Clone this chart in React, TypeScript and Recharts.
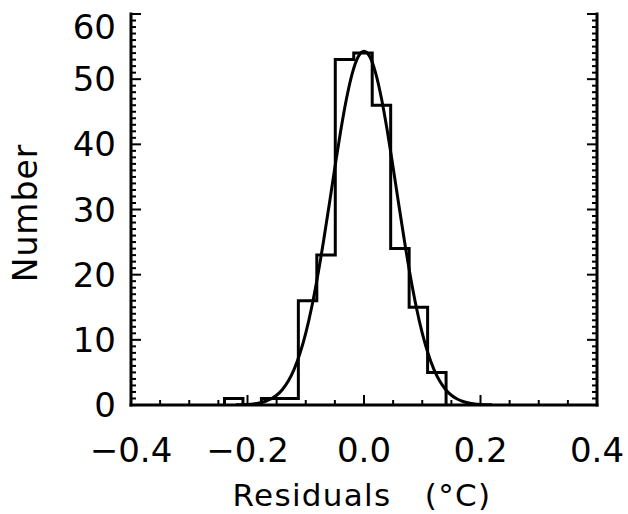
import React from 'react';
import { ComposedChart, Line, XAxis, YAxis } from 'recharts';

// Histogram bin edges (Residuals, °C) and counts per bin
const binEdges = [-0.2395, -0.2078, -0.1761, -0.1444, -0.1127, -0.081, -0.0493, -0.0176, 0.0141, 0.0458, 0.0775, 0.1092, 0.1409];
const binCounts = [1, 0, 1, 1, 16, 23, 53, 54, 46, 24, 15, 5];

// Gaussian fit curve
const fitX = [-0.22, -0.21, -0.2, -0.19, -0.18, -0.17, -0.16, -0.15, -0.14, -0.13, -0.12, -0.11, -0.1, -0.09, -0.08, -0.07, -0.06, -0.05, -0.04, -0.03, -0.02, -0.01, 0, 0.01, 0.02, 0.03, 0.04, 0.05, 0.06, 0.07, 0.08, 0.09, 0.1, 0.11, 0.12, 0.13, 0.14, 0.15, 0.16, 0.17, 0.18, 0.19, 0.2, 0.21, 0.22];
const fitY = [0.02, 0.05, 0.09, 0.17, 0.31, 0.54, 0.92, 1.5, 2.39, 3.67, 5.47, 7.89, 11.02, 14.93, 19.57, 24.86, 30.59, 36.45, 42.07, 47.04, 50.94, 53.44, 54.3, 53.44, 50.94, 47.04, 42.07, 36.45, 30.59, 24.86, 19.57, 14.93, 11.02, 7.89, 5.47, 3.67, 2.39, 1.5, 0.92, 0.54, 0.31, 0.17, 0.09, 0.05, 0.02];

// Tick values
const xMajorTicks = [-0.4, -0.2, 0, 0.2, 0.4];
const xMajorLabels = ['\u22120.4', '\u22120.2', '0.0', '0.2', '0.4'];
const xAllTicks = [-0.4, -0.35, -0.3, -0.25, -0.2, -0.15, -0.1, -0.05, 0, 0.05, 0.1, 0.15, 0.2, 0.25, 0.3, 0.35, 0.4];
const yMajorTicks = [0, 10, 20, 30, 40, 50, 60];
const yAllTicks = Array.from({ length: 61 }, (_, i) => i);

const histData = [
  { x: binEdges[0], count: 0 },
  ...binCounts.map((c, i) => ({ x: binEdges[i], count: c })),
  { x: binEdges[binEdges.length - 1], count: 0 },
];
const fitData = fitX.map((x, i) => ({ x, fit: fitY[i] }));

const FONT = '"DejaVu Sans", sans-serif';
const MAJ = 10;
const MIN = 5;
const TW = 2;

const isXMajor = (v: number) => xMajorTicks.findIndex((m) => Math.abs(m - v) < 1e-6);

const BottomTick = (props: any) => {
  const { x, y, payload } = props;
  const idx = isXMajor(payload.value);
  const len = idx >= 0 ? MAJ : MIN;
  return (
    <g>
      <line x1={x} y1={y} x2={x} y2={y - len} stroke="#000" strokeWidth={TW} />
      {idx >= 0 && (
        <text x={x} y={y + 57} textAnchor="middle" fontFamily={FONT} fontSize={34} fill="#000">
          {xMajorLabels[idx]}
        </text>
      )}
    </g>
  );
};

const TopTick = (props: any) => {
  const { x, y, payload } = props;
  const idx = isXMajor(payload.value);
  const len = idx >= 0 ? MAJ : MIN;
  return <line x1={x} y1={y} x2={x} y2={y + len} stroke="#000" strokeWidth={TW} />;
};

const LeftTick = (props: any) => {
  const { x, y, payload } = props;
  const v = payload.value;
  const major = yMajorTicks.includes(v);
  const len = major ? MAJ : MIN;
  const baseY = v === 60 ? y + 25 : y + 12;
  return (
    <g>
      <line x1={x} y1={y} x2={x + len} y2={y} stroke="#000" strokeWidth={TW} />
      {major && (
        <text x={x - 15} y={baseY} textAnchor="end" fontFamily={FONT} fontSize={34} fill="#000">
          {String(v)}
        </text>
      )}
    </g>
  );
};

const RightTick = (props: any) => {
  const { x, y, payload } = props;
  const major = yMajorTicks.includes(payload.value);
  const len = major ? MAJ : MIN;
  return <line x1={x} y1={y} x2={x - len} y2={y} stroke="#000" strokeWidth={TW} />;
};

const XTitle = () => (
  <text x={362} y={506} textAnchor="middle" fontFamily={FONT} fontSize={31} letterSpacing={1.3} fill="#000">
    {'Residuals\u00A0\u00A0\u00A0(\u00B0C)'}
  </text>
);

const YTitle = () => (
  <text x={37} y={213} transform="rotate(-90 37 213)" textAnchor="middle" fontFamily={FONT} fontSize={33} letterSpacing={1} fill="#000">
    Number
  </text>
);

const axisLine = { stroke: '#000', strokeWidth: 3, strokeLinecap: 'square' as const };

export default function App() {
  return (
    <div style={{ position: 'fixed', left: 0, top: 0, width: 628, height: 514, background: '#fff' }}>
      <ComposedChart width={628} height={514} margin={{ top: 14, right: 0, bottom: 0, left: 0 }}>
        <XAxis
          xAxisId="b"
          dataKey="x"
          type="number"
          domain={[-0.4, 0.4]}
          allowDataOverflow
          ticks={xAllTicks}
          interval={0}
          tickSize={0}
          tickMargin={0}
          tickLine={false}
          axisLine={axisLine}
          height={109}
          tick={<BottomTick />}
          label={<XTitle />}
        />
        <XAxis
          xAxisId="t"
          orientation="top"
          dataKey="x"
          type="number"
          domain={[-0.4, 0.4]}
          allowDataOverflow
          ticks={xAllTicks}
          interval={0}
          tickSize={0}
          tickMargin={0}
          tickLine={false}
          axisLine={axisLine}
          height={0}
          tick={<TopTick />}
        />
        <YAxis
          yAxisId="l"
          type="number"
          domain={[0, 60]}
          allowDataOverflow
          ticks={yAllTicks}
          interval={0}
          tickSize={0}
          tickMargin={0}
          tickLine={false}
          axisLine={axisLine}
          width={131}
          tick={<LeftTick />}
          label={<YTitle />}
        />
        <YAxis
          yAxisId="r"
          orientation="right"
          type="number"
          domain={[0, 60]}
          allowDataOverflow
          ticks={yAllTicks}
          interval={0}
          tickSize={0}
          tickMargin={0}
          tickLine={false}
          axisLine={axisLine}
          width={31}
          tick={<RightTick />}
        />
        <Line
          xAxisId="b"
          yAxisId="l"
          data={histData}
          dataKey="count"
          type="stepAfter"
          stroke="#000"
          strokeWidth={3}
          strokeLinejoin="miter"
          dot={false}
          activeDot={false}
          isAnimationActive={false}
        />
        <Line
          xAxisId="b"
          yAxisId="l"
          data={fitData}
          dataKey="fit"
          type="monotone"
          stroke="#000"
          strokeWidth={3}
          dot={false}
          activeDot={false}
          isAnimationActive={false}
        />
      </ComposedChart>
    </div>
  );
}
